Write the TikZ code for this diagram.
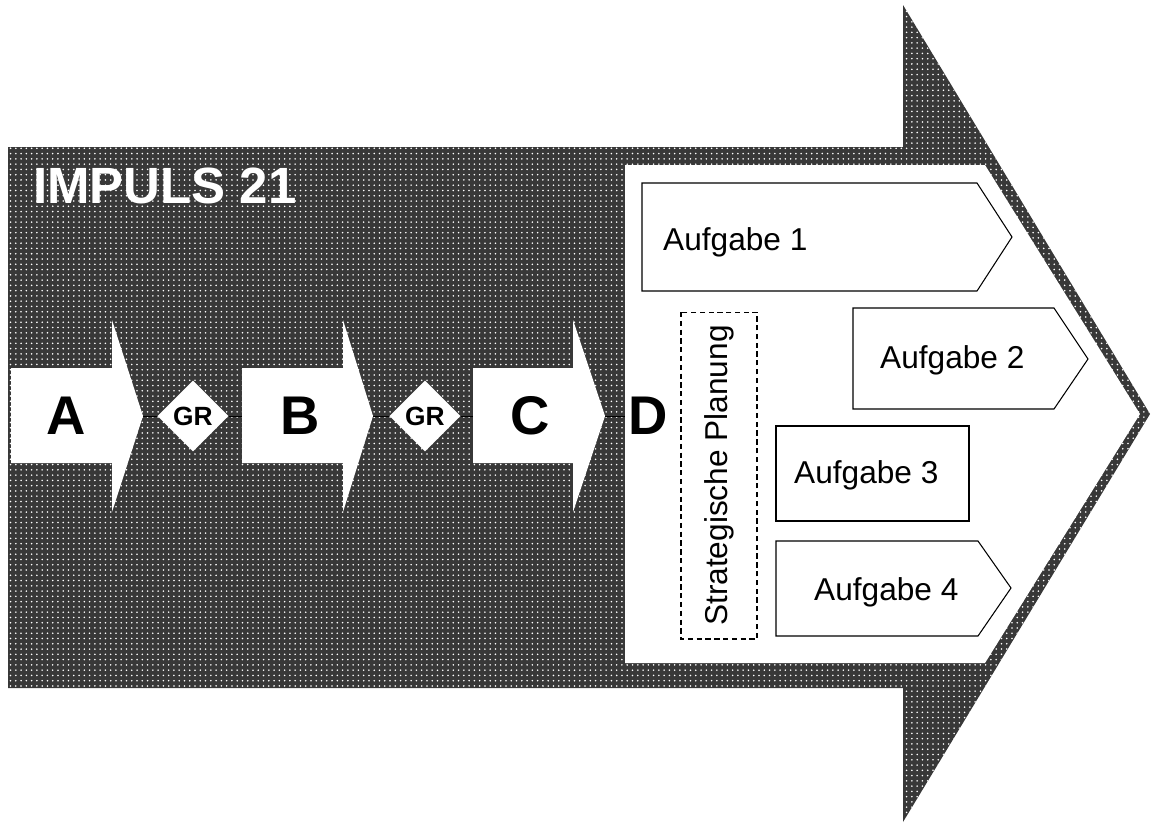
\documentclass[tikz,border=0pt]{standalone}
\usepackage{fontspec}
\setmainfont{Liberation Sans}
\usetikzlibrary{patterns,shapes.geometric}
\begin{document}
\begin{tikzpicture}
[
    x=0.02cm, y=-0.02cm,
    hatched/.style={fill=black!78, postaction={pattern=dots, pattern color=white}},
    task/.style={draw, fill=white, line width=0.6pt},
    letter/.style={font=\bfseries\fontsize{31}{31}\selectfont},
    headline/.style={text=white, font=\bfseries\fontsize{29}{29}\selectfont},
    gate/.style={diamond, fill=white, inner sep=0pt, minimum size=1.42cm, font=\bfseries\fontsize{15}{15}\selectfont},
    tasktext/.style={anchor=base west, font=\fontsize{18}{18}\selectfont},
]
\useasboundingbox (0,0) rectangle (1152,823);
\path[hatched] (8,147) -- (903,147) -- (903,5) -- (1150,414) -- (903,822) -- (903,688) -- (8,688) -- cycle;
\node[headline] (title) at (165,186) {IMPULS 21};
\path[fill=white] (625,165) -- (985,165) -- (1140,414) -- (985,663) -- (625,663) -- cycle;
\foreach \l/\r/\t/\n in {11/112/143/a, 242/343/373/b, 473/573/605/c}
{
    \path[fill=white] (\l,368) -- (\r,368) -- (\r,320) -- (\t,416) coordinate (tip\n)
        -- (\r,512) -- (\r,463) -- (\l,463) -- cycle;
    \coordinate (start\n) at (\l,416);
}
\node[letter] (phaseA) at (66,416) {A};
\node[letter] (phaseB) at (300,416) {B};
\node[letter] (phaseC) at (530,416) {C};
\node[letter] (phaseD) at (648,416) {D};
\node[gate] (gr1) at (193,416) {GR};
\node[gate] (gr2) at (425,416) {GR};
\coordinate (panel) at (625,416);
\draw (tipa) -- (gr1) -- (startb);
\draw (tipb) -- (gr2) -- (startc);
\draw (tipc) -- (panel);
\draw[task] (642,183) -- (977,183) -- (1012,237) -- (977,291) -- (642,291) -- cycle;
\draw[task] (853,308) -- (1054,308) -- (1088,359) -- (1054,409) -- (853,409) -- cycle;
\draw[task] (776,426) rectangle (969,521);
\draw[task] (776,541) -- (978,541) -- (1011,588) -- (978,636) -- (776,636) -- cycle;
\node[tasktext] (task1) at (657,250) {Aufgabe 1};
\node[tasktext] (task2) at (874,368) {Aufgabe 2};
\node[tasktext] (task3) at (788,483) {Aufgabe 3};
\node[tasktext] (task4) at (808,600) {Aufgabe 4};
\node[draw, line width=0.6pt, dash pattern=on 3pt off 2pt, rotate=90, minimum width=6.54cm, minimum height=1.52cm,
    font=\fontsize{18}{18}\selectfont] (plan) at (719,475.5) {Strategische Planung};
\end{tikzpicture}
\end{document}
